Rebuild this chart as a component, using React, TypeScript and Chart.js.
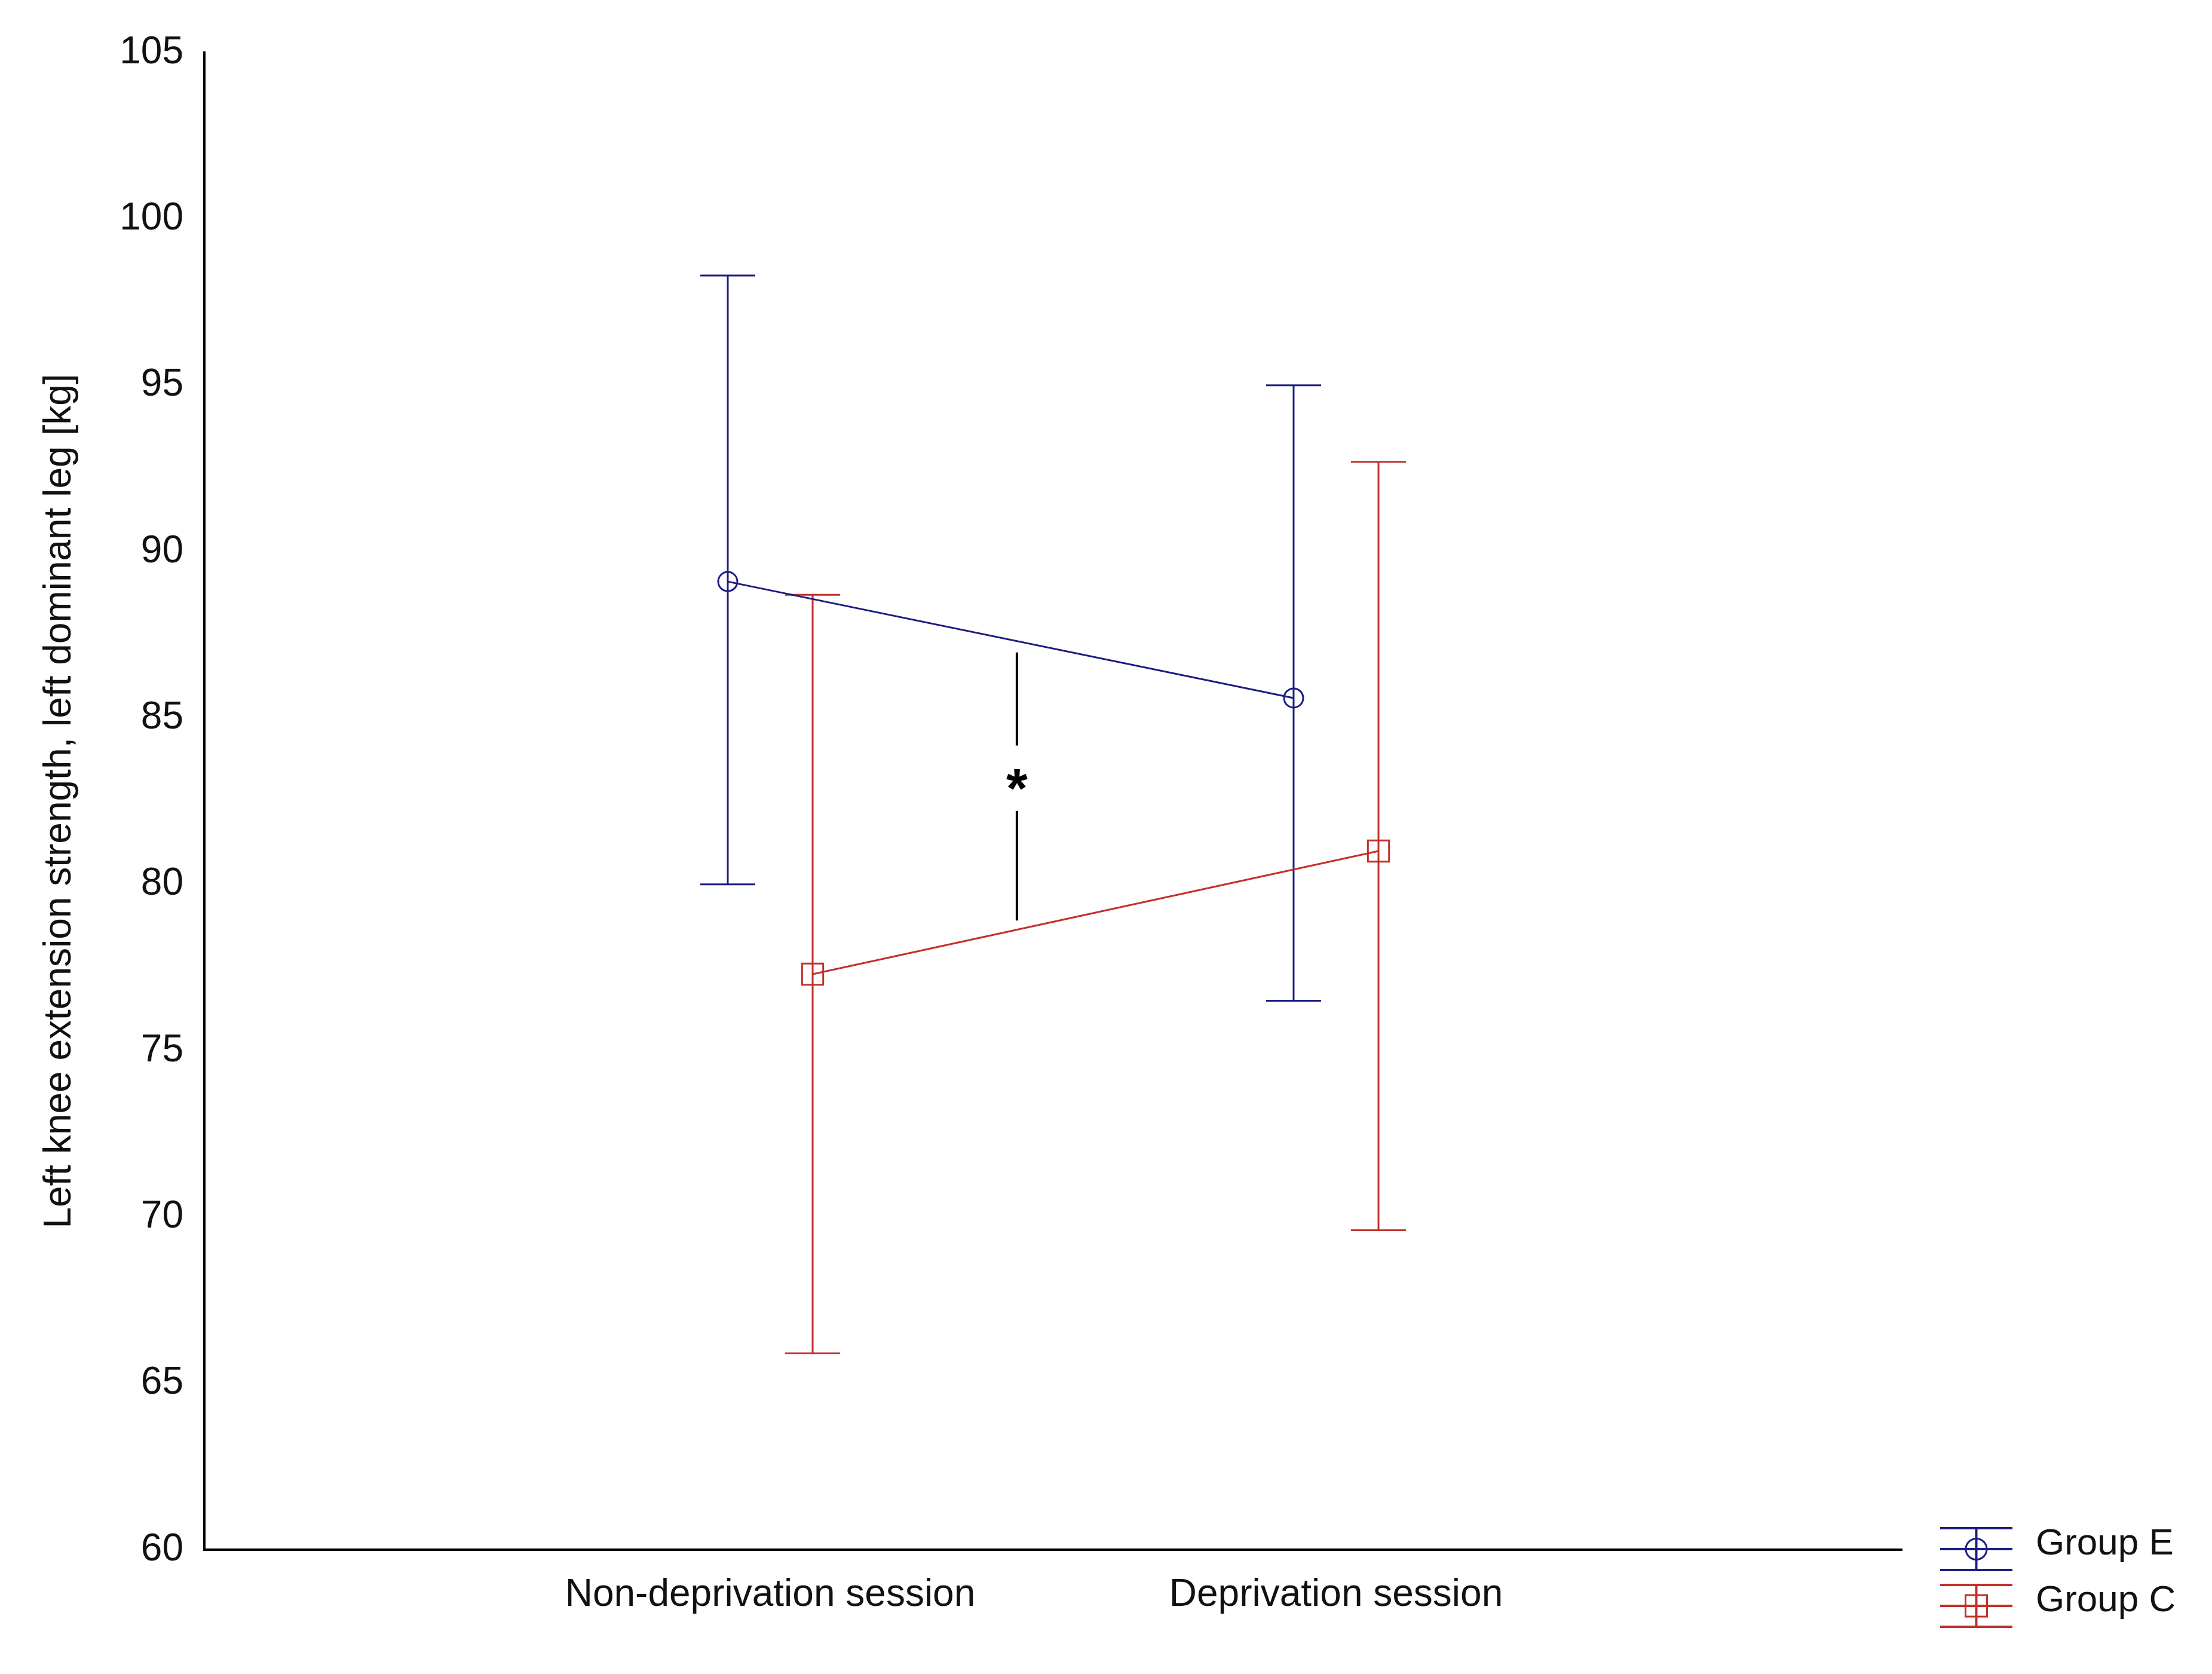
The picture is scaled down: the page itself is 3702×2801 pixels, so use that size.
import React, { useEffect, useRef } from 'react';
import { Chart, registerables } from 'chart.js';

Chart.register(...registerables);

// ---- data ----
const categories = ['Non-deprivation session', 'Deprivation session'];
const seriesNames = ['Group E', 'Group C'];
const groupEMean = [89.1, 85.6];
const groupEUpper = [98.3, 95.0];
const groupELower = [80.0, 76.5];
const groupCMean = [77.3, 81.0];
const groupCUpper = [88.7, 92.7];
const groupCLower = [65.9, 69.6];
const yTickValues = [60, 65, 70, 75, 80, 85, 90, 95, 100, 105];
const yTitle = 'Left knee extension strength, left dominant leg [kg]';
const sigPositionX = [1.436];
const sigSegments = [
  [86.97, 84.17],
  [82.21, 78.91],
];
const sigLabelY = [83.24];
const sigLabel = '*';

// ---- styles ----
const FONT = '"Liberation Sans", Arial, sans-serif';
const COLOR_E = '#1d1d82';
const COLOR_C = '#c2302b';
const GROUP_OFFSET = 0.075;
const CAP_HALF = 46;

const seriesSpec = [
  { name: seriesNames[0], mean: groupEMean, upper: groupEUpper, lower: groupELower, color: COLOR_E, style: 'circle', offset: -GROUP_OFFSET },
  { name: seriesNames[1], mean: groupCMean, upper: groupCUpper, lower: groupCLower, color: COLOR_C, style: 'rect', offset: GROUP_OFFSET },
];

const errorBarPlugin = {
  id: 'errorBars',
  beforeDatasetsDraw(chart: any) {
    const { ctx, scales } = chart;
    const xs = scales.x;
    const ys = scales.y;
    ctx.save();
    seriesSpec.forEach((s) => {
      ctx.strokeStyle = s.color;
      ctx.lineWidth = 3;
      s.mean.forEach((_, i) => {
        const px = xs.getPixelForValue(i + 1 + s.offset);
        const pu = ys.getPixelForValue(s.upper[i]);
        const pl = ys.getPixelForValue(s.lower[i]);
        ctx.beginPath();
        ctx.moveTo(px, pu);
        ctx.lineTo(px, pl);
        ctx.moveTo(px - CAP_HALF, pu);
        ctx.lineTo(px + CAP_HALF, pu);
        ctx.moveTo(px - CAP_HALF, pl);
        ctx.lineTo(px + CAP_HALF, pl);
        ctx.stroke();
      });
    });
    // significance marker
    ctx.strokeStyle = '#000';
    ctx.lineWidth = 4;
    sigPositionX.forEach((sx, k) => {
      const px = xs.getPixelForValue(sx);
      sigSegments.forEach(([a, b]) => {
        ctx.beginPath();
        ctx.moveTo(px, ys.getPixelForValue(a));
        ctx.lineTo(px, ys.getPixelForValue(b));
        ctx.stroke();
      });
      ctx.fillStyle = '#000';
      ctx.font = `bold 92px ${FONT}`;
      ctx.textAlign = 'center';
      ctx.textBaseline = 'alphabetic';
      ctx.fillText(sigLabel, px, ys.getPixelForValue(sigLabelY[k]) + 52);
    });
    ctx.restore();
  },
};

const legendPlugin = {
  id: 'customLegend',
  afterDraw(chart: any) {
    const { ctx, chartArea } = chart;
    const x0 = chartArea.right + 64;
    const w = 121;
    const cx = x0 + w / 2;
    ctx.save();
    seriesSpec.forEach((s, i) => {
      const mid = chartArea.bottom - 1 + i * 95;
      const gap = 35;
      ctx.strokeStyle = s.color;
      ctx.lineWidth = 4;
      ctx.beginPath();
      [mid - gap, mid, mid + gap].forEach((yy) => {
        ctx.moveTo(x0, yy);
        ctx.lineTo(x0 + w, yy);
      });
      ctx.moveTo(cx, mid - gap);
      ctx.lineTo(cx, mid + gap);
      ctx.stroke();
      ctx.lineWidth = 3;
      ctx.beginPath();
      if (s.style === 'circle') {
        ctx.arc(cx, mid, 17.5, 0, Math.PI * 2);
      } else {
        ctx.rect(cx - 18, mid - 18, 36, 36);
      }
      ctx.stroke();
      ctx.fillStyle = '#111';
      ctx.font = `62px ${FONT}`;
      ctx.textAlign = 'left';
      ctx.textBaseline = 'alphabetic';
      ctx.fillText(s.name, x0 + 160, mid + 9);
    });
    ctx.restore();
  },
};

export default function App() {
  const canvasRef = useRef<HTMLCanvasElement | null>(null);

  useEffect(() => {
    const canvas = canvasRef.current;
    if (!canvas) return;
    const datasets = seriesSpec.map((s) => ({
      label: s.name,
      data: s.mean.map((v, i) => ({ x: i + 1 + s.offset, y: v })),
      borderColor: s.color,
      borderWidth: 3,
      backgroundColor: 'transparent',
      pointStyle: s.style,
      pointRadius: s.style === 'circle' ? 16 : 25,
      pointBorderWidth: 3,
      pointBorderColor: s.color,
      pointBackgroundColor: 'transparent',
      tension: 0,
      fill: false,
    }));
    const chart = new Chart(canvas, {
      type: 'line',
      data: { datasets },
      plugins: [errorBarPlugin, legendPlugin],
      options: {
        animation: false,
        responsive: false,
        devicePixelRatio: 1,
        layout: { padding: { top: 0, right: 519, bottom: 0, left: 0 } },
        plugins: { legend: { display: false }, tooltip: { enabled: false } },
        scales: {
          x: {
            type: 'linear',
            position: 'bottom',
            min: 0,
            max: categories.length + 1,
            grid: { display: false },
            border: { display: true, color: '#000', width: 4 },
            afterBuildTicks: (s: any) => {
              s.ticks = categories.map((_, i) => ({ value: i + 1 }));
            },
            afterFit: (s: any) => {
              s.height = 208;
            },
            ticks: {
              autoSkip: false,
              maxRotation: 0,
              padding: 30,
              color: '#111',
              font: { family: FONT, size: 64 },
              callback: (v: any) => categories[Number(v) - 1] ?? '',
            },
          },
          y: {
            type: 'linear',
            min: yTickValues[0],
            max: yTickValues[yTickValues.length - 1],
            grid: { display: false, drawTicks: false },
            border: { display: true, color: '#000', width: 4 },
            afterBuildTicks: (s: any) => {
              s.ticks = yTickValues.map((v) => ({ value: v }));
            },
            afterFit: (s: any) => {
              s.width = 342;
              s.paddingTop = 88;
            },
            ticks: {
              padding: 35,
              color: '#111',
              font: { family: FONT, size: 64 },
            },
            title: {
              display: true,
              text: yTitle,
              color: '#111',
              font: { family: FONT, size: 64 },
              padding: { top: 62, bottom: 0 },
            },
          },
        },
      },
    } as any);
    return () => chart.destroy();
  }, []);

  return (
    <div style={{ position: 'absolute', left: 0, top: 0, width: 3702, height: 2801, background: '#fff' }}>
      <canvas ref={canvasRef} width={3702} height={2801} style={{ width: 3702, height: 2801, display: 'block' }} />
    </div>
  );
}
